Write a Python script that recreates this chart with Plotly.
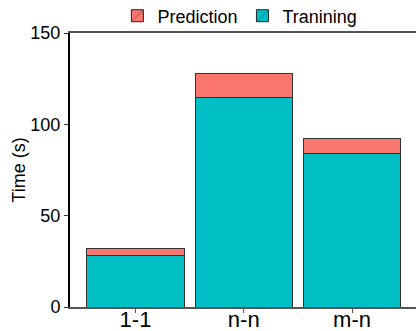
import plotly.graph_objects as go

categories = ["1-1", "n-n", "m-n"]
training = [28.1, 114.6, 84.2]
prediction = [4.2, 13.1, 8.3]
y_ticks = [0, 50, 100, 150]

RED = "#F8766D"
TEAL = "#00BFC4"
FONT = "Liberation Sans, Arial, sans-serif"

fig = go.Figure()
# legend-only entries (with diagonal key like ggplot)
fig.add_trace(go.Bar(x=[None], y=[None], name="Prediction", showlegend=True,
                     marker=dict(color=RED, line=dict(color="#222", width=1),
                                 pattern=dict(shape="/", size=14, fgcolor="#222", solidity=0.1))))
fig.add_trace(go.Bar(x=[None], y=[None], name="Tranining", showlegend=True,
                     marker=dict(color=TEAL, line=dict(color="#222", width=1),
                                 pattern=dict(shape="/", size=14, fgcolor="#222", solidity=0.1))))
# data
fig.add_trace(go.Bar(x=categories, y=training, name="Tranining", showlegend=False, width=0.9,
                     marker=dict(color=TEAL, line=dict(color="#333", width=1))))
fig.add_trace(go.Bar(x=categories, y=prediction, name="Prediction", showlegend=False, width=0.9,
                     marker=dict(color=RED, line=dict(color="#333", width=1))))

fig.update_layout(
    width=416, height=331,
    barmode="stack",
    paper_bgcolor="white", plot_bgcolor="white",
    margin=dict(l=70, r=0, t=33, b=24, autoexpand=False),
    font=dict(family=FONT, size=18, color="black"),
    legend=dict(orientation="h", x=0.491, xanchor="center", y=1.062, yanchor="middle",
                traceorder="normal", font=dict(size=18), itemwidth=30,
                bgcolor="rgba(0,0,0,0)"),
    xaxis=dict(type="category", range=[-0.605, 2.591], showline=True, linecolor="#555",
               linewidth=2, mirror=True, ticks="outside", ticklen=4, tickcolor="#555",
               tickfont=dict(size=22, color="black"), showgrid=False, zeroline=False,
               automargin=False, ticklabelstandoff=-12),
    yaxis=dict(range=[0, 150], tickvals=y_ticks, showline=True, linecolor="black",
               linewidth=2, ticks="outside", ticklen=4, tickcolor="#333",
               tickfont=dict(size=18, color="black"), showgrid=False, zeroline=False,
               automargin=False,
               title=dict(text="Time (s)", font=dict(size=18), standoff=0)),
)

fig.write_html("out.html", config={"displayModeBar": False},
               post_script="document.body.style.margin='0';")
